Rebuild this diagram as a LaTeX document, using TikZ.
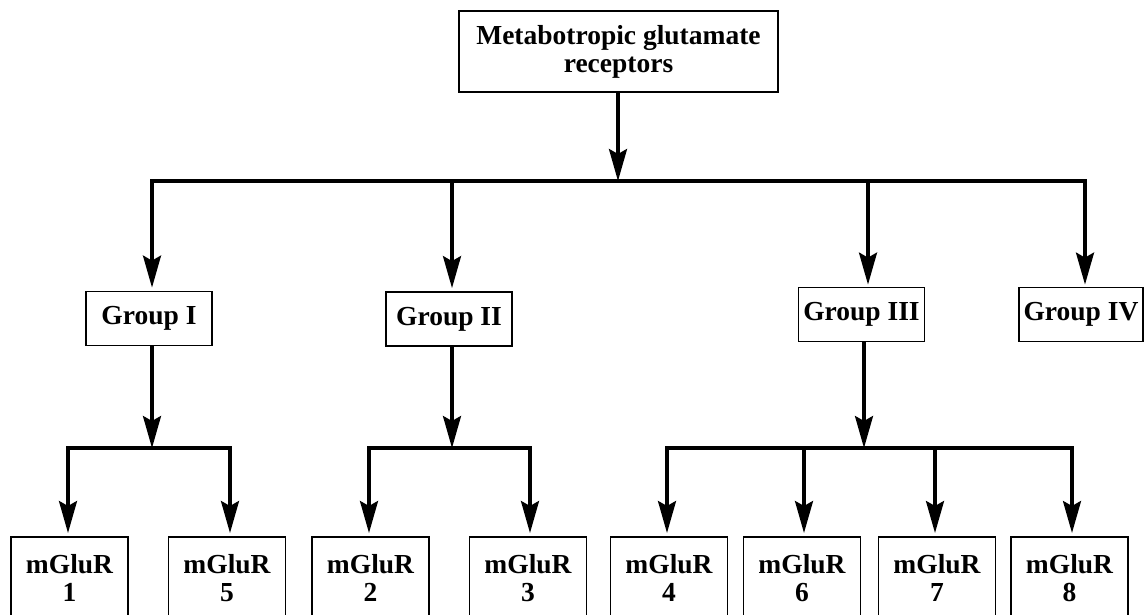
\documentclass[tikz,border=0pt]{standalone}
\usepackage{fontspec}
\setmainfont{Liberation Serif}
\usetikzlibrary{arrows.meta}
\begin{document}
\begin{tikzpicture}[x=1pt,y=-1pt,
  conn/.style={line width=3.3pt},
  arr/.style={conn,-{Stealth[length=32pt,width=18pt,inset=5pt]},shorten >=3pt},
  box/.style={draw,line width=1.8pt,rectangle,inner sep=0pt,font=\fontsize{27.5}{28}\selectfont\bfseries,align=center},
  grp/.style={box,minimum width=126pt,minimum height=54pt},
  leaf/.style={box,minimum width=117pt,minimum height=82pt,anchor=north}]
\useasboundingbox (0,0) rectangle (1144,615);
\clip (0,0) rectangle (1144,615);
% top
\node[box,minimum width=319pt,minimum height=81pt] (top) at (618.5,51.5) {Metabotropic glutamate\\receptors};
% groups
\node[grp] (g1) at (149,318.5) {Group I};
\node[grp] (g2) at (449,319) {Group II};
\node[grp] (g3) at (861.5,314.5) {Group III};
\node[grp,minimum width=124pt] (g4) at (1081,314.5) {Group IV};
% leaves
\node[leaf] (m1) at (69.5,536) {mGluR\\1};
\node[leaf] (m5) at (227,536) {mGluR\\5};
\node[leaf] (m2) at (370.5,536) {mGluR\\2};
\node[leaf] (m3) at (528,536) {mGluR\\3};
\node[leaf] (m4) at (669,536) {mGluR\\4};
\node[leaf] (m6) at (802,536) {mGluR\\6};
\node[leaf] (m7) at (937,536) {mGluR\\7};
\node[leaf] (m8) at (1069.5,536) {mGluR\\8};
% main bus
\coordinate (bus) at (618,181);
\coordinate (busL) at (152,181);
\coordinate (busB) at (452,181);
\coordinate (busC) at (868,181);
\coordinate (busR) at (1085,181);
\draw[arr,shorten >=0pt] (top.south -| bus) -- (bus);
\draw[conn,line cap=rect] (busL) -- (busR);
\draw[arr] (busL) -- (busL |- g1.north);
\draw[arr] (busB) -- (busB |- g2.north);
\draw[arr,shorten >=2pt] (busC) -- (busC |- g3.north);
\draw[arr,shorten >=2pt] (busR) -- (busR |- g4.north);
% group I
\coordinate (s1) at (152,448);
\coordinate (s1L) at (68,448);
\coordinate (s1R) at (230,448);
\draw[arr,shorten >=0pt] (s1 |- g1.south) -- (s1);
\draw[conn,line cap=rect] (s1L) -- (s1R);
\draw[arr] (s1L) -- (s1L |- m1.north);
\draw[arr] (s1R) -- (s1R |- m5.north);
% group II
\coordinate (s2) at (452,448);
\coordinate (s2L) at (369,448);
\coordinate (s2R) at (530,448);
\draw[arr,shorten >=0pt] (s2 |- g2.south) -- (s2);
\draw[conn,line cap=rect] (s2L) -- (s2R);
\draw[arr] (s2L) -- (s2L |- m2.north);
\draw[arr] (s2R) -- (s2R |- m3.north);
% group III
\coordinate (s3) at (864,448);
\coordinate (s3a) at (667,448);
\coordinate (s3b) at (804,448);
\coordinate (s3c) at (935,448);
\coordinate (s3d) at (1072,448);
\draw[arr,shorten >=0pt] (s3 |- g3.south) -- (s3);
\draw[conn,line cap=rect] (s3a) -- (s3d);
\draw[arr] (s3a) -- (s3a |- m4.north);
\draw[arr] (s3b) -- (s3b |- m6.north);
\draw[arr] (s3c) -- (s3c |- m7.north);
\draw[arr] (s3d) -- (s3d |- m8.north);
\end{tikzpicture}
\end{document}
